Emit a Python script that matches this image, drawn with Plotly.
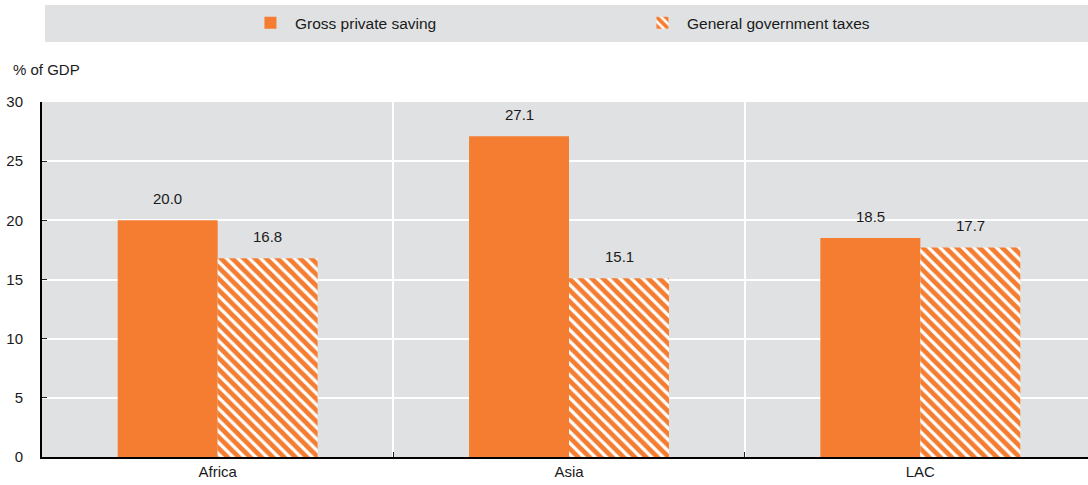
import plotly.graph_objects as go

categories = ["Africa", "Asia", "LAC"]
private_saving = [20.0, 27.1, 18.5]
gov_taxes = [16.8, 15.1, 17.7]
series_names = ["Gross private saving", "General government taxes"]
y_ticks = [0, 5, 10, 15, 20, 25, 30]

ORANGE = "#F47D31"
GRAY = "#E0E1E3"
FONT = "Liberation Sans Narrow, Arial Narrow, Liberation Sans, Arial, sans-serif"
TXT = "#1a1a1a"

fig = go.Figure()
fig.add_trace(go.Bar(
    x=categories, y=private_saving, name=series_names[0],
    marker=dict(color=ORANGE, line=dict(width=0)),
))
fig.add_trace(go.Bar(
    x=categories, y=gov_taxes, name=series_names[1],
    marker=dict(color="white", line=dict(width=0),
                pattern=dict(shape="\\", fgcolor=ORANGE, bgcolor="white",
                             fgopacity=1, size=8, solidity=0.6)),
))

# value labels
for vals, shift in ((private_saving, -50), (gov_taxes, 50)):
    for c, v in zip(categories, vals):
        fig.add_annotation(x=c, y=v, text=f"{v:.1f}", showarrow=False,
                           xshift=shift, yshift=22, yanchor="middle",
                           font=dict(size=15, color=TXT, family=FONT))

# legend background band
fig.add_shape(type="rect", xref="paper", yref="paper",
              x0=0.0029, x1=1.0, y0=1.169, y1=1.2732,
              fillcolor=GRAY, line=dict(width=0), layer="below")

fig.add_annotation(xref="paper", yref="paper", x=-0.029, y=1.062,
                   text="% of GDP", showarrow=False, xanchor="left",
                   yanchor="bottom", font=dict(size=15, color=TXT, family=FONT))

fig.update_layout(
    width=1096, height=485,
    margin=dict(l=42, r=0, t=102, b=28),
    paper_bgcolor="white", plot_bgcolor=GRAY,
    barmode="group", bargap=0.431, bargroupgap=0,
    font=dict(family=FONT, size=15, color=TXT),
    showlegend=True,
    legend=dict(orientation="h", x=0.1935, xanchor="left", y=1.222,
                yanchor="middle", bgcolor="rgba(0,0,0,0)",
                font=dict(size=15.5, color=TXT, family=FONT),
                itemwidth=39, entrywidth=338, entrywidthmode="pixels",
                traceorder="normal"),
    xaxis=dict(type="category", tickson="boundaries", showgrid=True,
               gridcolor="white", gridwidth=2, ticks="inside", ticklen=5,
               tickcolor="#222", showline=True, linecolor="black",
               linewidth=2, tickfont=dict(size=15, color=TXT)),
    yaxis=dict(range=[0, 30], tickvals=y_ticks, showgrid=True,
               gridcolor="white", gridwidth=1.5, ticks="inside", ticklen=5,
               tickcolor="#222", showline=True, linecolor="black",
               linewidth=2, zeroline=False, ticklabelstandoff=14,
               tickfont=dict(size=15, color=TXT)),
)

fig.write_html("out.html", config={"displayModeBar": False},
               post_script="document.body.style.margin='0';document.body.style.overflow='hidden';")
